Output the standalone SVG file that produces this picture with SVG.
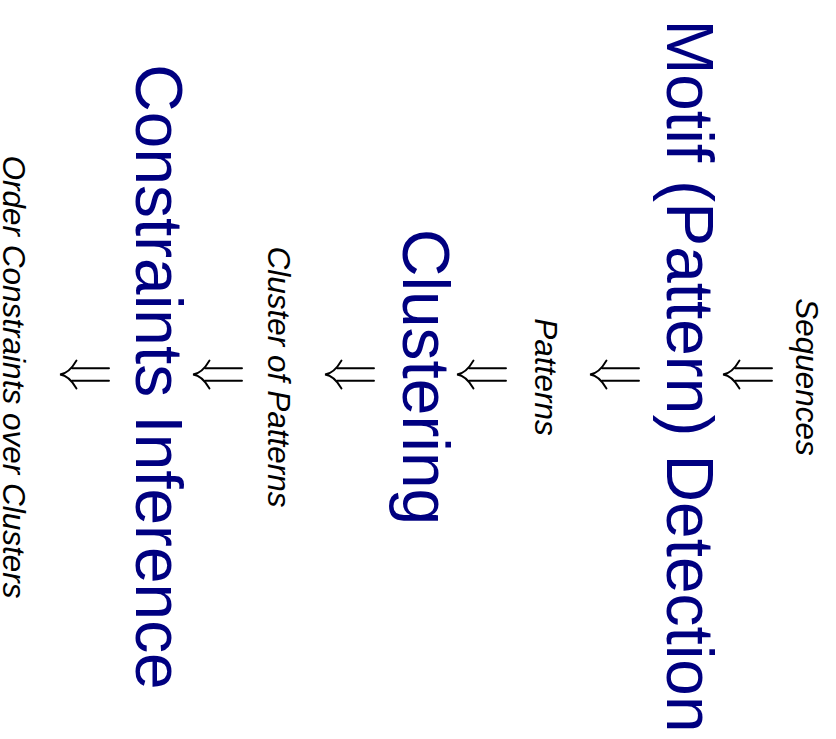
<svg xmlns="http://www.w3.org/2000/svg" width="836" height="739" viewBox="0 0 836 739">
  <style>
    .stage { font-family: "Liberation Sans", Arial, Helvetica, sans-serif; font-size: 65.8px; fill: #000080; text-anchor: middle; }
    .data { font-family: "Liberation Sans", Arial, Helvetica, sans-serif; font-size: 31.5px; font-style: italic; fill: #000000; text-anchor: middle; }
    .arrow { fill: none; stroke: #000000; stroke-width: 1.9; stroke-linecap: round; }
  </style>
  <defs>
    <!-- double arrow (⇓ turned with the page), tip at the origin -->
    <g id="dbl">
      <path class="arrow" d="M16.5,-14 Q9,-1 0,0 Q9,1 16.5,14"/>
      <path class="arrow" d="M12,-6.3 H49 M12,6.3 H49"/>
    </g>
  </defs>
  <rect width="836" height="739" fill="#ffffff"/>

  <g id="connectors">
    <use href="#dbl" x="723" y="374.5"/>
    <use href="#dbl" x="590" y="374.5"/>
    <use href="#dbl" x="457" y="374.5"/>
    <use href="#dbl" x="325" y="374.5"/>
    <use href="#dbl" x="193" y="374.5"/>
    <use href="#dbl" x="60" y="374.5"/>
  </g>

  <g id="sequences">
    <text class="data" transform="translate(796,377) rotate(90)">Sequences</text>
  </g>
  <g id="motif-detection">
    <text class="stage" transform="translate(667,376) rotate(90)">Motif (Pattern) Detection</text>
  </g>
  <g id="patterns">
    <text class="data" transform="translate(535,377) rotate(90)">Patterns</text>
  </g>
  <g id="clustering">
    <text class="stage" transform="translate(403,377) rotate(90)">Clustering</text>
  </g>
  <g id="cluster-of-patterns">
    <text class="data" transform="translate(268,377) rotate(90)">Cluster of Patterns</text>
  </g>
  <g id="constraints-inference">
    <text class="stage" transform="translate(136,377) rotate(90)">Constraints Inference</text>
  </g>
  <g id="order-constraints">
    <text class="data" transform="translate(3,377) rotate(90)">Order Constraints over Clusters</text>
  </g>
</svg>
